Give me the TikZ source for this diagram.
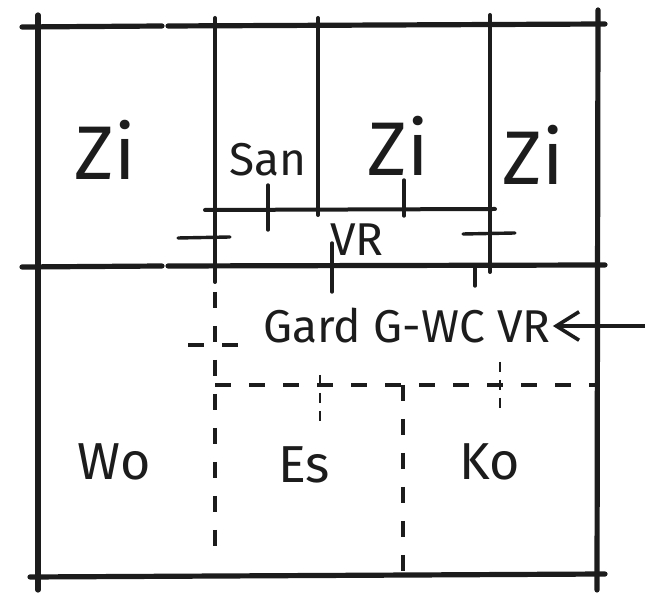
\documentclass[tikz,border=0pt]{standalone}
\usepackage{fontspec}
\setmainfont{Fira Sans}
\usetikzlibrary{arrows.meta}
\definecolor{skInk}{HTML}{1C1C1C}
\tikzset{
  wall/.style={line width=2.6pt, skInk, line cap=round},
  partition/.style={line width=2pt, skInk, line cap=round},
  doortick/.style={line width=1.7pt, skInk, line cap=round},
  hidden/.style={line width=2.2pt, skInk, dash pattern=on 8pt off 9pt},
  shorttick/.style={line width=1.3pt, skInk, dash pattern=on 5pt off 4pt},
  roomlabel/.style={font=\fontsize{23}{23}\selectfont, text=skInk, inner sep=1pt},
  floorlabel/.style={roomlabel, font=\fontsize{26}{26}\selectfont},
  biglabel/.style={font=\fontsize{38}{38}\selectfont, text=skInk, inner sep=1pt},
  entry/.style={-{Straight Barb[length=4mm, width=5mm]}, line width=1.8pt, skInk}
}
\begin{document}
\begin{tikzpicture}[x=0.5pt, y=-0.5pt]
  \useasboundingbox[fill=white] (0,0) rectangle (648,597);
  % outer walls
  \draw[wall] (22,27) -- (162,26);
  \draw[wall] (168,26) -- (605,24);
  \draw[wall] (38,15) -- (38,590);
  \draw[wall] (598,10) -- (597,590);
  \draw[wall] (22,267) -- (162,266);
  \draw[wall] (168,266) -- (605,265);
  \draw[wall] (30,577) -- (605,574);
  % rooms along the top
  \draw[partition] (215,18) -- (215,282);
  \draw[partition] (318,18) -- (318,215);
  \draw[partition] (490,15) -- (490,272);
  \draw[partition] (205,210) -- (495,209);
  % doors
  \draw[doortick] (268,185) -- (268,230);
  \draw[doortick] (404,180) -- (404,216);
  \draw[doortick] (178,238) -- (230,237);
  \draw[doortick] (463,234) -- (515,233);
  \draw[doortick] (332,243) -- (332,292);
  \draw[doortick] (475,266) -- (475,286);
  % open plan below
  \draw[hidden] (215,292) -- (215,555);
  \draw[hidden] (215,385) -- (598,385);
  \draw[hidden] (403,385) -- (403,580);
  \draw[hidden] (188,345) -- (252,345);
  \draw[shorttick] (320,375) -- (320,425);
  \draw[shorttick] (500,362) -- (500,410);
  % labels
  \node[biglabel] (zione) at (105,150) {Zi};
  \node[roomlabel] (san) at (268,160) {San};
  \node[biglabel] (zitwo) at (398,146) {Zi};
  \node[biglabel] (zithree) at (533,155) {Zi};
  \node[roomlabel] (vrtop) at (357,240) {VR};
  \node[roomlabel] (gwc) at (407,326) {Gard G-WC VR};
  \node[floorlabel] (wo) at (114,462) {Wo};
  \node[floorlabel] (es) at (304,465) {Es};
  \node[floorlabel] (ko) at (490,462) {Ko};
  % entrance
  \coordinate (entrypt) at (645,326);
  \draw[entry] (entrypt) -- (gwc.east);
\end{tikzpicture}
\end{document}
